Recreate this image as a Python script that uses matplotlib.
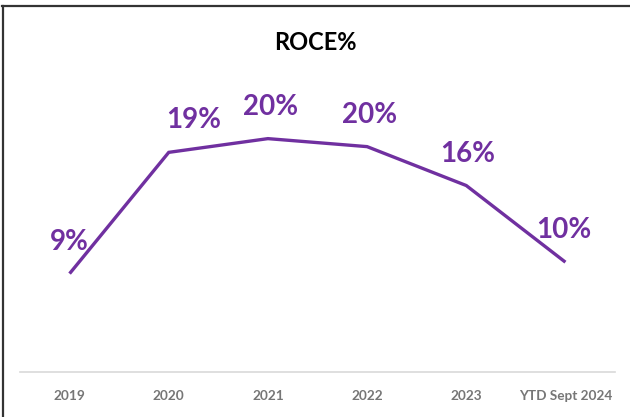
import matplotlib
matplotlib.use("Agg")
import matplotlib.pyplot as plt
from matplotlib.lines import Line2D

categories = ["2019", "2020", "2021", "2022", "2023", "YTD Sept 2024"]
roce = [8.6, 19.2, 20.4, 19.7, 16.3, 9.6]
label_dx = [0, 18, 2, 2, 1, -1]  # manual label nudges (points)

purple = "#7030A0"
plt.rcParams['font.family'] = ['Lato', 'DejaVu Sans']

fig = plt.figure(figsize=(6.3, 4.17), dpi=100)
ax = fig.add_axes([20/630, 1-372/417, 595/630, 286/417])

x = list(range(len(categories)))
ax.plot(x, roce, color=purple, lw=2.4, solid_capstyle='butt', solid_joinstyle='miter')
for xi, v, dx in zip(x, roce, label_dx):
    ax.annotate(f"{v:.0f}%", (xi, v), xytext=(dx, 23), textcoords='offset points',
                ha='center', va='center', color=purple, fontsize=20, fontweight='bold')

ax.set_xlim(-0.5, len(categories)-0.5)
ax.set_ylim(0, 25)
ax.set_xticks(x)
ax.set_xticklabels(categories, color='#767676', fontsize=9.8, fontweight='bold')
ax.tick_params(axis='x', length=0, pad=13)
ax.set_yticks([])
for s in ['top', 'right', 'left']:
    ax.spines[s].set_visible(False)
ax.spines['bottom'].set_color('#d9d9d9')
ax.spines['bottom'].set_linewidth(1.2)

fig.text(0.5, 1-43/417, "ROCE%", ha='center', va='center', fontsize=17,
         fontweight='bold', color='black')

# outer frame lines (top and left)
fig.add_artist(Line2D([2/630, 1], [1-5.5/417, 1-5.5/417], color='#333333', lw=1.6,
                      transform=fig.transFigure))
fig.add_artist(Line2D([2.5/630, 2.5/630], [0, 1-5.5/417], color='#333333', lw=1.6,
                      transform=fig.transFigure))

fig.savefig("out.png", dpi=100)
